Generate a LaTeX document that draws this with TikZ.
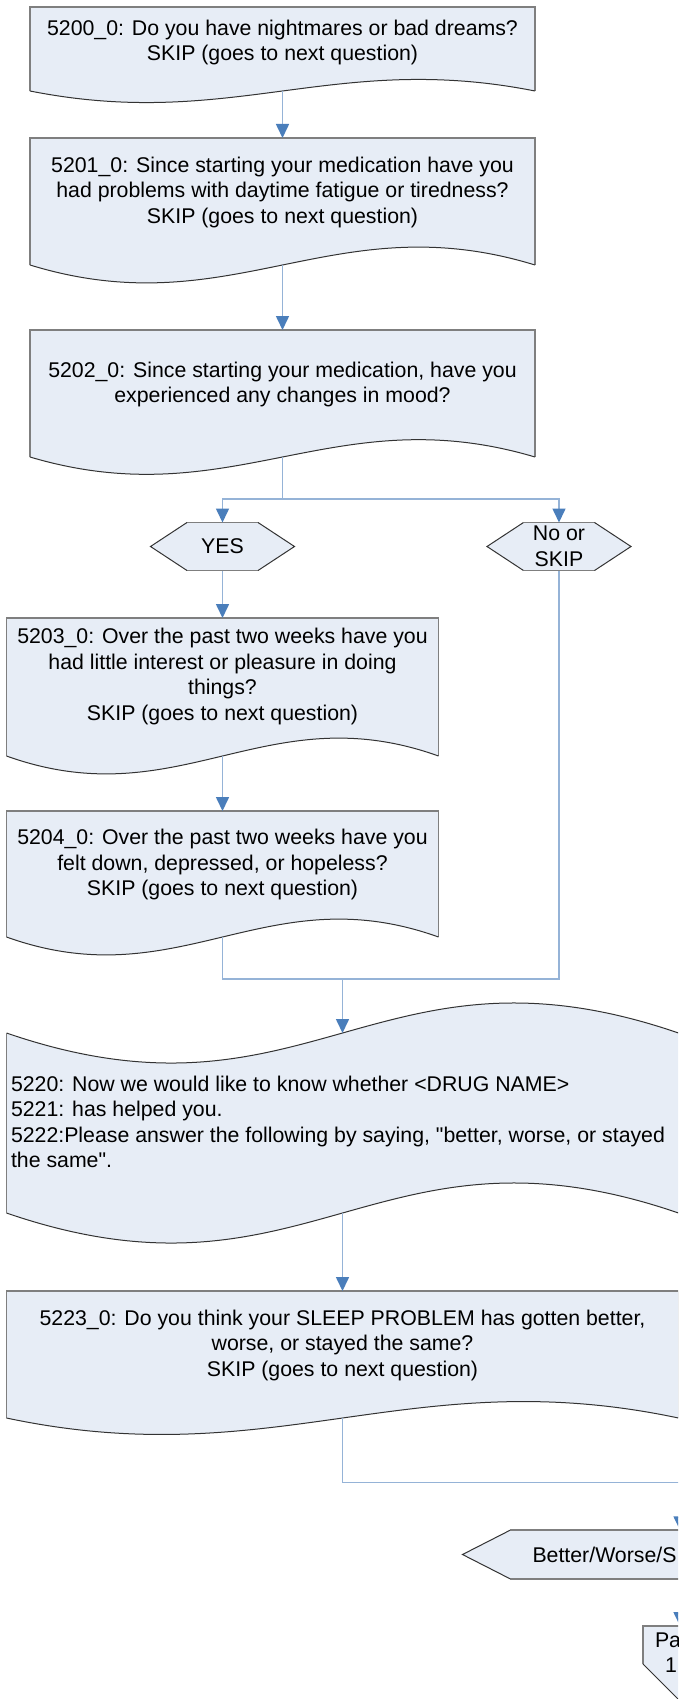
\documentclass[tikz,border=0pt]{standalone}
\usepackage{fontspec}
\newfontfamily\arialf{Liberation Sans}
\usetikzlibrary{arrows.meta,calc}
\definecolor{shapefill}{HTML}{E7EDF6}
\definecolor{edgegrey}{HTML}{7F7F7F}
\definecolor{edgedark}{HTML}{333333}
\definecolor{connblue}{HTML}{95B3D7}
\definecolor{tipblue}{HTML}{4A7EBB}
\tikzset{
  anchorbox/.style={rectangle, inner sep=0pt, outer sep=0pt, draw=none},
  txt/.style={inner sep=0pt, outer sep=0pt, align=center, font=\arialf\fontsize{21.3}{25.5}\selectfont},
  conn/.style={draw=connblue, line width=1.6pt},
  arr/.style={-{Triangle[width=13pt,length=14pt,color=tipblue]}},
  straightedge/.style={draw=edgegrey, line width=1.6pt},
  curveedge/.style={draw=edgedark, line width=1pt},
}
\newcommand\docshape[3]{%
  \fill[shapefill] (#1.south west) -- (#1.north west) -- (#1.north east) -- (#1.south east)
     .. controls ($(#1.south east)+(-0.4*#2,-#3)$) and ($(#1.south west)+(0.4*#2,#3)$) .. (#1.south west) -- cycle;
  \draw[straightedge] (#1.south west) -- (#1.north west) -- (#1.north east) -- (#1.south east);
  \draw[curveedge] (#1.south east)
     .. controls ($(#1.south east)+(-0.4*#2,-#3)$) and ($(#1.south west)+(0.4*#2,#3)$) .. (#1.south west);
}
\newcommand\hexshape[2]{%
  \fill[shapefill] (#1.west) -- ($(#1.north west)+(#2,0)$) -- ($(#1.north east)+(-#2,0)$) -- (#1.east)
     -- ($(#1.south east)+(-#2,0)$) -- ($(#1.south west)+(#2,0)$) -- cycle;
  \draw[straightedge] ($(#1.north west)+(#2,0)$) -- ($(#1.north east)+(-#2,0)$);
  \draw[straightedge] ($(#1.south east)+(-#2,0)$) -- ($(#1.south west)+(#2,0)$);
  \draw[curveedge] ($(#1.north west)+(#2,0)$) -- (#1.west) -- ($(#1.south west)+(#2,0)$);
  \draw[curveedge] ($(#1.north east)+(-#2,0)$) -- (#1.east) -- ($(#1.south east)+(-#2,0)$);
}
\begin{document}
\begin{tikzpicture}[x=1pt,y=-1pt]
\useasboundingbox (0,0) rectangle (678,1699);
\clip (0,0) rectangle (678,1699);
\fill[white] (0,0) rectangle (678,1699);

% box 1
\node[anchorbox, minimum width=505, minimum height=84, anchor=north] (b1) at (282.5,7) {};
\docshape{b1}{505}{40}
\node[txt] (t1) at (282.5,42.7) {5200\_0: Do you have nightmares or bad dreams?\\SKIP (goes to next question)};

% box 2
\node[anchorbox, minimum width=505, minimum height=127, anchor=north] (b2) at (282.5,138) {};
\docshape{b2}{505}{62}
\node[txt] (t2) at (282.5,192) {5201\_0: Since starting your medication have you\\had problems with daytime fatigue or tiredness?\\SKIP (goes to next question)};

% box 3
\node[anchorbox, minimum width=505, minimum height=127, anchor=north] (b3) at (282.5,330) {};
\docshape{b3}{505}{60}
\node[txt] (t3) at (282.5,384.5) {5202\_0: Since starting your medication, have you\\experienced any changes in mood?};

% decisions
\node[anchorbox, minimum width=144, minimum height=48] (hyes) at (222.5,546.5) {};
\hexshape{hyes}{36.5}
\node[txt] (tyes) at (hyes) {YES};
\node[anchorbox, minimum width=144, minimum height=48] (hno) at (559,546.5) {};
\hexshape{hno}{36.5}
\node[txt] (tno) at (hno) {No or\\SKIP};

% box 4
\node[anchorbox, minimum width=432, minimum height=138, anchor=north] (b4) at (222.5,618) {};
\docshape{b4}{432}{62}
\node[txt] (t4) at (222.5,676.6) {5203\_0: Over the past two weeks have you\\had little interest or pleasure in doing\\things?\\SKIP (goes to next question)};

% box 5
\node[anchorbox, minimum width=432, minimum height=126, anchor=north] (b5) at (222.5,811) {};
\docshape{b5}{432}{62}
\node[txt] (t5) at (222.5,864.5) {5204\_0: Over the past two weeks have you\\felt down, depressed, or hopeless?\\SKIP (goes to next question)};

% box 6 (tape)
\node[anchorbox, minimum width=672, minimum height=180] (b6) at (342.5,1123) {};
\fill[shapefill] (b6.north west)
   .. controls ($(b6.north west)+(0.45*672,104)$) and ($(b6.north east)+(-0.45*672,-104)$) .. (b6.north east)
   -- (b6.south east)
   .. controls ($(b6.south east)+(-0.45*672,-104)$) and ($(b6.south west)+(0.45*672,104)$) .. (b6.south west) -- cycle;
\draw[curveedge] (b6.north west)
   .. controls ($(b6.north west)+(0.45*672,104)$) and ($(b6.north east)+(-0.45*672,-104)$) .. (b6.north east);
\draw[curveedge] (b6.south east)
   .. controls ($(b6.south east)+(-0.45*672,-104)$) and ($(b6.south west)+(0.45*672,104)$) .. (b6.south west);
\draw[straightedge] (b6.north west) -- (b6.south west);
\node[txt, align=left, anchor=west] (t6) at (11,1122) {5220: Now we would like to know whether <DRUG NAME>\\5221: has helped you.\\5222:Please answer the following by saying, "better, worse, or stayed\\the same".};

% box 7
\node[anchorbox, minimum width=672, minimum height=127, anchor=north] (b7) at (342.5,1291) {};
\docshape{b7}{672}{57}
\node[txt] (t7) at (342.5,1345) {5223\_0: Do you think your SLEEP PROBLEM has gotten better,\\worse, or stayed the same?\\SKIP (goes to next question)};

% better/worse hexagon
\node[anchorbox, minimum width=435, minimum height=48.5] (hbws) at (680,1554.5) {};
\hexshape{hbws}{47.5}
\node[txt, anchor=west] (tbws) at (532.5,1554.5) {Better/Worse/S};

% off-page connector
\node[anchorbox, minimum width=74, minimum height=38] (pg) at (680,1645) {};
\fill[shapefill] (pg.north west) -- (pg.north east) -- (pg.south east) -- ($(pg.south)+(0,37)$) -- (pg.south west) -- cycle;
\draw[straightedge] (pg.south west) -- (pg.north west) -- (pg.north east);
\draw[curveedge] (pg.south west) -- ($(pg.south)+(0,37)$) -- (pg.south east);
\node[txt, anchor=west] (tpg1) at (655,1640) {Pa};
\node[txt, anchor=west] (tpg2) at (665,1665) {1};

% connectors
\draw[conn,arr] (b1.south) -- (b2.north);
\draw[conn,arr] (b2.south) -- (b3.north);
\coordinate (j1) at (282.5,499);
\draw[conn] (b3.south) -- (j1);
\draw[conn,arr] (j1) -| (hyes.north);
\draw[conn,arr] (j1) -| (hno.north);
\draw[conn,arr] (hyes.south) -- (b4.north);
\draw[conn,arr] (b4.south) -- (b5.north);
\coordinate (j2) at (342.5,979);
\draw[conn] (b5.south) |- (j2);
\draw[conn] (hno.south) |- (j2);
\draw[conn,arr] (j2) -- (b6.north);
\draw[conn,arr] (b6.south) -- (b7.north);
\coordinate (j3) at (342.5,1482.5);
\draw[conn] (b7.south) -- (j3);
\draw[conn,arr] (j3) -| (hbws.north);
\draw[conn,arr] (hbws.south) -- (pg.north);
\end{tikzpicture}
\end{document}
